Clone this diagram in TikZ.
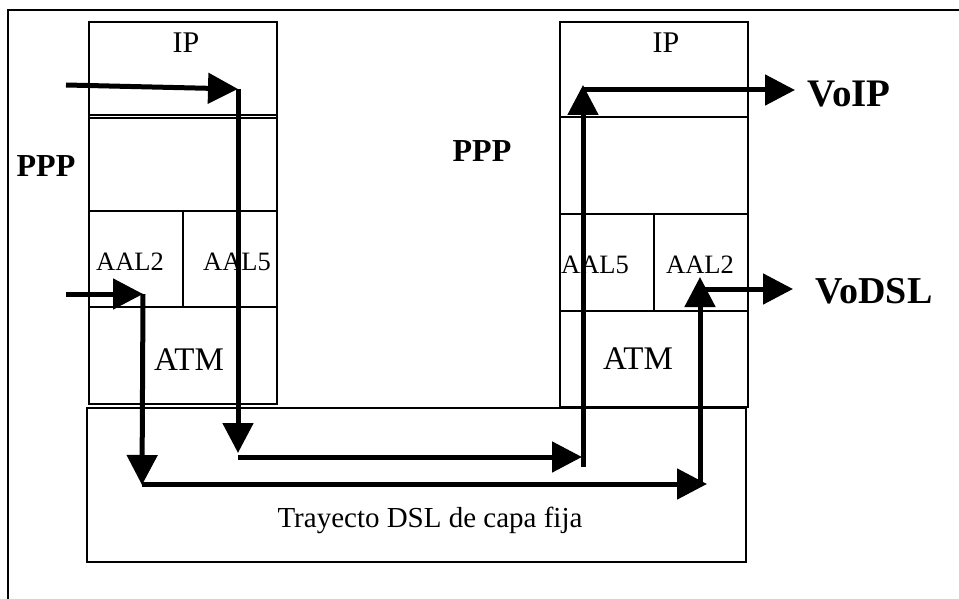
\documentclass[tikz,border=0pt]{standalone}
\usepackage{fontspec}
\setmainfont{Liberation Serif}
\usetikzlibrary{arrows.meta}
\begin{document}
\begin{tikzpicture}[x=1pt,y=-1pt,
  thin line/.style={line width=1.3pt},
  lbl/.style={inner sep=0pt,text depth=0pt,anchor=center},
  flow/.style={line width=5pt,-{Triangle[length=30pt,width=30pt]}},
  fs/.style={font=\fontsize{#1}{#1}\selectfont,text height=0.66*#1 pt},
  fsb/.style={font=\fontsize{#1}{#1}\selectfont\bfseries,text height=0.66*#1 pt}]
\useasboundingbox (0,0) rectangle (959,599);
% outer frame
\draw[thin line] (8,599) -- (8,10) -- (960,10);
% left stack
\draw[thin line] (89,22) rectangle (277,404);
\draw[thin line] (89,115) -- (277,115);
\draw[thin line] (89,118) -- (277,118);
\draw[thin line] (89,211) -- (277,211);
\draw[thin line] (89,307) -- (277,307);
\draw[thin line] (183,211) -- (183,307);
% right stack
\draw[thin line] (560,22) rectangle (748,407);
\draw[thin line] (560,117) -- (748,117);
\draw[thin line] (560,214) -- (748,214);
\draw[thin line] (560,311) -- (748,311);
\draw[thin line] (654,214) -- (654,311);
% DSL box
\draw[thin line] (87,408) rectangle (746,562);
% labels
\node[lbl,fs=30] (lip) at (186,43) {IP};
\node[lbl,fs=26.5] (laal2) at (130,262) {AAL2};
\node[lbl,fs=26.5] (laal5) at (237,262) {AAL5};
\node[lbl,fs=33] (latm) at (189,360) {ATM};
\node[lbl,fsb=32] (lppp) at (46,166) {PPP};
\node[lbl,fs=30] (rip) at (666,43) {IP};
\node[lbl,fs=26.5] (raal5) at (595,265) {AAL5};
\node[lbl,fs=26.5] (raal2) at (700,265) {AAL2};
\node[lbl,fs=33] (ratm) at (638,359) {ATM};
\node[lbl,fsb=32] (rppp) at (482,151) {PPP};
\node[lbl,fsb=39] (voip) at (849,94) {VoIP};
\node[lbl,fsb=38] (vodsl) at (874,291) {VoDSL};
\node[lbl,fs=29] (dsl) at (430,518) {Trayecto DSL de capa fija};
% waypoints
\coordinate (a0) at (66,85);
\coordinate (a1) at (238,89);
\coordinate (a2) at (238,453);
\coordinate (a3) at (238,457);
\coordinate (a4) at (582,457);
\coordinate (a5) at (583,467);
\coordinate (a6) at (583,85);
\coordinate (a7) at (583,90);
\coordinate (a8) at (795,90);
\coordinate (b0) at (66,294);
\coordinate (b1) at (143,294);
\coordinate (b2) at (142,485);
\coordinate (b3) at (142,484);
\coordinate (b4) at (707,484);
\coordinate (b5) at (700,484);
\coordinate (b6) at (700,277);
\coordinate (b7) at (700,289);
\coordinate (b8) at (793,289);
% flows
\draw[flow] (a0) -- (a1);
\draw[flow] (a1) -- (a2);
\draw[flow] (a3) -- (a4);
\draw[flow] (a5) -- (a6);
\draw[flow] (a7) -- (a8);
\draw[flow] (b0) -- (b1);
\draw[flow] (b1) -- (b2);
\draw[flow] (b3) -- (b4);
\draw[flow] (b5) -- (b6);
\draw[flow] (b7) -- (b8);
\end{tikzpicture}
\end{document}
